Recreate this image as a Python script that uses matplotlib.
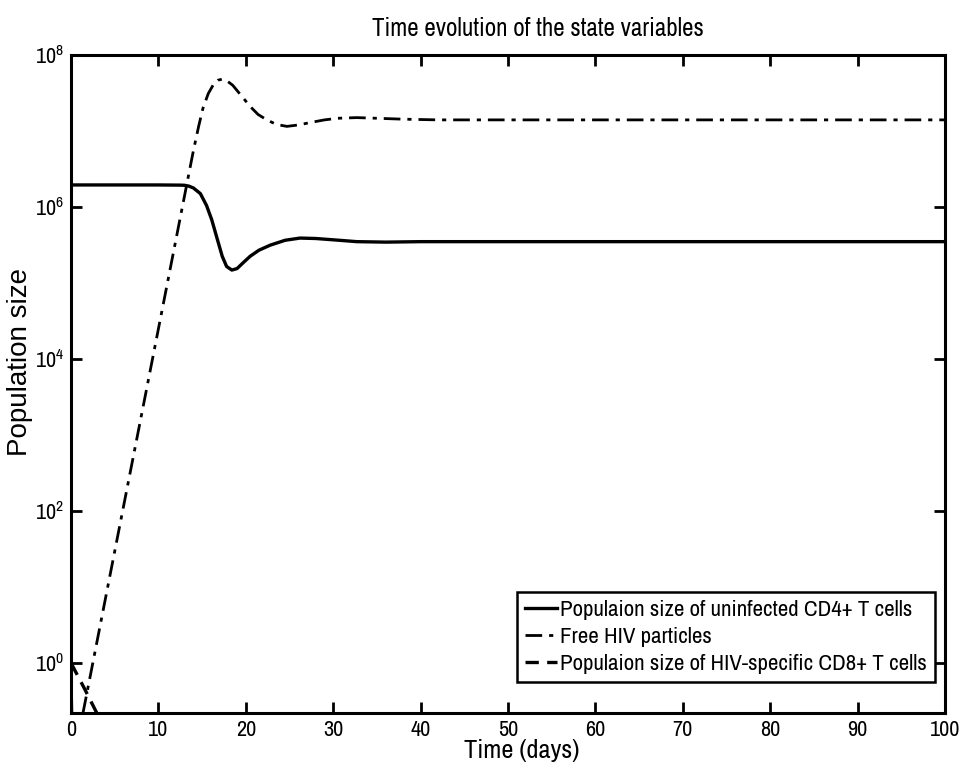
import matplotlib.pyplot as plt
from matplotlib import font_manager

# values (time in days, population on log scale)
t_cd4 = [0, 5, 10, 12.5, 13, 13.5, 14, 14.8, 15.5, 16.1, 16.7, 17.3, 17.8, 18.4, 19, 19.7,
         20.5, 21.5, 22.8, 24.5, 26.2, 28, 30, 32.7, 36, 40, 60, 80, 100]
cd4 = [1.95e6, 1.95e6, 1.95e6, 1.94e6, 1.93e6, 1.88e6, 1.78e6, 1.5e6, 1.05e6, 6.8e5, 3.9e5, 2.25e5,
       1.65e5, 1.48e5, 1.55e5, 1.85e5, 2.25e5, 2.7e5, 3.15e5, 3.65e5, 3.9e5, 3.85e5, 3.7e5, 3.5e5,
       3.45e5, 3.5e5, 3.5e5, 3.5e5, 3.5e5]

t_hiv = [0, 0.15, 1.37, 5.8, 10.65, 13.25, 14, 14.6, 15.1, 15.7, 16.3, 16.8, 17.26, 17.8, 18.5,
         19.5, 20.5, 21.4, 22.4, 23.5, 24.7, 26, 27.5, 29, 30.5, 32.7, 35, 38, 42, 60, 80, 100]
hiv = [1.0, 0.1, 0.22, 87, 6.0e4, 2.0e6, 5.5e6, 1.15e7, 2.0e7, 3.1e7, 4.1e7, 4.65e7, 4.8e7, 4.6e7,
       4.0e7, 2.9e7, 2.1e7, 1.65e7, 1.4e7, 1.22e7, 1.15e7, 1.2e7, 1.3e7, 1.4e7, 1.47e7, 1.5e7,
       1.47e7, 1.43e7, 1.4e7, 1.4e7, 1.4e7, 1.4e7]

t_cd8 = [0, 1.5, 2.95]
cd8 = [1.0, 0.47, 0.22]

labels = ['Populaion size of uninfected CD4+ T cells',
          'Free HIV particles',
          'Populaion size of HIV-specific CD8+ T cells']

# MATLAB-ish narrow sans; fall back to a condensed face if one is installed
narrow = None
for f in font_manager.fontManager.ttflist:
    if 'Narrow' in f.name or 'Condensed' in f.name:
        narrow = f.name
        break
if narrow is None:
    for f in font_manager.fontManager.ttflist:
        if f.stretch in ('condensed', 'semi-condensed', 'extra-condensed'):
            narrow = f.name
            break
scale = 1.0 if narrow else 0.82
plt.rcParams['font.family'] = [narrow or 'Liberation Sans', 'DejaVu Sans']
if narrow:
    plt.rcParams['font.stretch'] = 'condensed'

fig = plt.figure(figsize=(9.61, 7.69), dpi=100)
ax = fig.add_axes([0.0739, 0.0728, 0.9095, 0.8557])

ax.semilogy(t_cd4, cd4, color='black', lw=2.4, label=labels[0])
ax.semilogy(t_hiv, hiv, color='black', lw=2.0, linestyle=(0, (6, 2.5, 1.5, 2.5)), label=labels[1])
ax.semilogy(t_cd8, cd8, color='black', lw=2.4, linestyle=(0, (4, 2.5)), label=labels[2])

ax.set_xlim(0, 100)
ax.set_ylim(0.22, 1e8)
ax.set_xticks(range(0, 101, 10))
ax.set_yticks([1e0, 1e2, 1e4, 1e6, 1e8])
ax.minorticks_off()
ax.tick_params(direction='in', length=8, width=2, top=True, right=True, labelsize=16 * scale, pad=5)
for s in ax.spines.values():
    s.set_linewidth(2.2)

ax.set_title('Time evolution of the state variables', fontsize=18 * scale, pad=14, x=0.534)
ax.set_xlabel('Time (days)', fontsize=19 * scale, va='top')
ax.xaxis.set_label_coords(0.516, -0.04)
ax.set_ylabel('Population size', fontsize=20, fontfamily='Liberation Sans')
ax.yaxis.set_label_coords(-0.0435, 0.533)

leg = ax.legend(loc='lower right', bbox_to_anchor=(0.9886, 0.047), fontsize=16.5 * scale,
                handlelength=1.4, handletextpad=0.15, labelspacing=0.3,
                borderpad=0.35, borderaxespad=0, fancybox=False, framealpha=1)
leg.get_frame().set_edgecolor('black')
leg.get_frame().set_linewidth(1.8)

fig.savefig('out.png', dpi=100)
